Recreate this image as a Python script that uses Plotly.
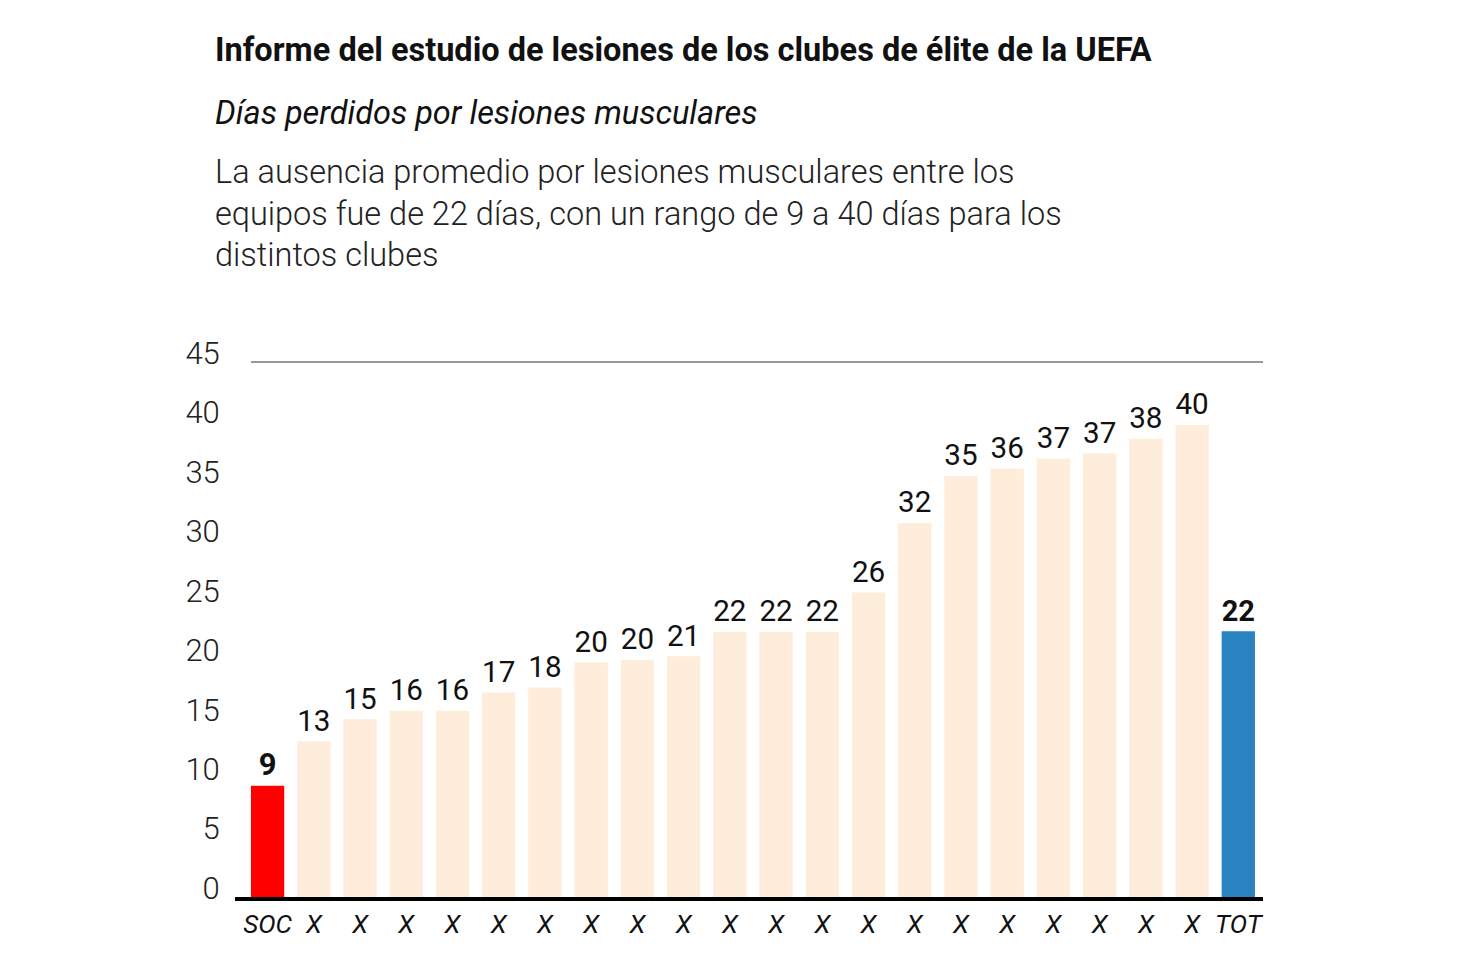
import plotly.graph_objects as go

# ---- data ----
categories = ["SOC"] + ["X"] * 20 + ["TOT"]
days = [9.35, 13.07, 14.96, 15.66, 15.66, 17.2, 17.62, 19.72, 19.95, 20.25,
        22.31, 22.31, 22.31, 25.61, 31.46, 35.44, 36.05, 36.89, 37.31, 38.55,
        39.71, 22.35]
day_labels = ["9", "13", "15", "16", "16", "17", "18", "20", "20", "21",
              "22", "22", "22", "26", "32", "35", "36", "37", "37", "38",
              "40", "22"]
y_ticks = [0, 5, 10, 15, 20, 25, 30, 35, 40, 45]

title = "Informe del estudio de lesiones de los clubes de élite de la UEFA"
subtitle = "Días perdidos por lesiones musculares"
body_lines = [
    "La ausencia promedio por lesiones musculares entre los",
    "equipos fue de 22 días, con un rango de 9 a 40 días para los",
    "distintos clubes",
]

FONT = "Roboto"
positions = list(range(len(categories)))

# layout geometry (px)
PLOT_BOTTOM = 897
AXIS_TOP = 362          # pixel of value 45
EXTRA_TOP = 14          # blank headroom above 45
TOP_MARGIN = AXIS_TOP - EXTRA_TOP
PLOT_H = PLOT_BOTTOM - TOP_MARGIN
PX_PER_UNIT = (PLOT_BOTTOM - AXIS_TOP) / 45.0
Y_MAX = PLOT_H / PX_PER_UNIT
LABEL_SHIFT = 9 / PX_PER_UNIT   # tick labels sit slightly above their values

fig = go.Figure()

groups = [
    ([0], "#FF0000", 700),
    (list(range(1, 21)), "#FDEDDA", 400),
    ([21], "#2A83C1", 700),
]
for idx, color, weight in groups:
    fig.add_trace(go.Bar(
        x=[positions[i] for i in idx],
        y=[days[i] for i in idx],
        text=[day_labels[i] for i in idx],
        textposition="outside",
        textfont=dict(family=FONT, size=31, color="#111", weight=weight),
        marker=dict(color=color, line=dict(width=0)),
        cliponaxis=False,
        hoverinfo="skip",
        showlegend=False,
    ))

# helper trace to activate the tick-label axis
fig.add_trace(go.Scatter(x=[None], y=[None], yaxis="y2", showlegend=False,
                         hoverinfo="skip"))

fig.update_layout(
    width=1469, height=968,
    margin=dict(l=235, r=206, t=TOP_MARGIN, b=968 - PLOT_BOTTOM),
    plot_bgcolor="white", paper_bgcolor="white",
    barmode="overlay",
    bargap=0.28,
    font=dict(family=FONT, color="#111"),
)

fig.update_xaxes(
    range=[-0.705, 21.534],
    tickvals=positions, ticktext=categories,
    tickfont=dict(family=FONT, size=26, style="italic", color="#111"),
    showline=True, linecolor="black", linewidth=4,
    ticks="outside", ticklen=0, ticklabelstandoff=1,
    showgrid=False, zeroline=False,
)
fig.update_yaxes(
    range=[0, Y_MAX],
    showticklabels=False,
    showgrid=False, zeroline=False, showline=False,
)
fig.update_layout(yaxis2=dict(
    overlaying="y", side="left", anchor="x",
    range=[-LABEL_SHIFT, Y_MAX - LABEL_SHIFT],
    tickvals=y_ticks,
    tickfont=dict(family=FONT, size=31, weight=300, color="#222"),
    ticks="outside", ticklen=0, ticklabelstandoff=8,
    showgrid=False, zeroline=False, showline=False,
))

# top reference line at 45
fig.add_shape(type="line", xref="paper", yref="y",
              x0=0.0156, x1=1.0, y0=45, y1=45,
              line=dict(color="#777", width=1.5))

def py(px):
    return (PLOT_BOTTOM - px) / PLOT_H

x_left = (213 - 235) / 1028.0
fig.add_annotation(text=title, xref="paper", yref="paper", x=x_left, y=py(50),
                   xanchor="left", yanchor="middle", showarrow=False,
                   font=dict(family=FONT, size=32.5, weight=700, color="#111"))
fig.add_annotation(text=subtitle, xref="paper", yref="paper", x=x_left, y=py(113),
                   xanchor="left", yanchor="middle", showarrow=False,
                   font=dict(family=FONT, size=32.5, style="italic", color="#111"))
for line, ypx in zip(body_lines, [172, 214, 255]):
    fig.add_annotation(text=line, xref="paper", yref="paper", x=x_left, y=py(ypx),
                       xanchor="left", yanchor="middle", showarrow=False,
                       font=dict(family=FONT, size=32.5, weight=300, color="#222"))

fig.write_html("out.html")
